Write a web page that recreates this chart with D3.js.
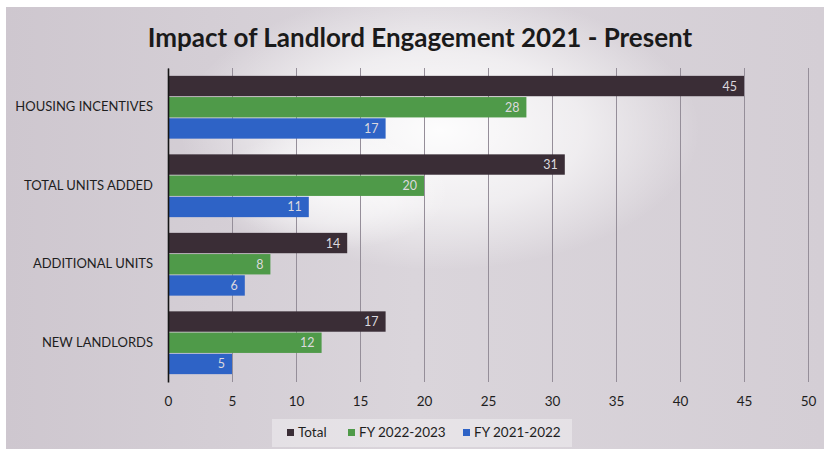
<!DOCTYPE html>
<html>
<head>
<meta charset="utf-8">
<script src="https://cdn.jsdelivr.net/npm/d3@7/dist/d3.min.js"></script>
<style>
  html, body { margin: 0; padding: 0; background: #ffffff; }
  svg { display: block; }
</style>
</head>
<body>
<svg id="chart" width="824" height="449"></svg>
<script>
// Chart data
const categories = ["HOUSING INCENTIVES", "TOTAL UNITS ADDED", "ADDITIONAL UNITS", "NEW LANDLORDS"];
const seriesNames = ["Total", "FY 2022-2023", "FY 2021-2022"];
const totalValues = [45, 31, 14, 17];
const fy2223Values = [28, 20, 8, 12];
const fy2122Values = [17, 11, 6, 5];
const xTicks = [0, 5, 10, 15, 20, 25, 30, 35, 40, 45, 50];
const titleText = "Impact of Landlord Engagement 2021 - Present";

const seriesValues = [totalValues, fy2223Values, fy2122Values];
const seriesColors = ["#3a2d36", "#4f9a49", "#2e63c6"];

const W = 824, H = 449;
const svg = d3.select("#chart");
const font = "Lato, 'Open Sans', sans-serif";

// Slide background: pale lavender-grey with a lighter patch in the upper middle
const defs = svg.append("defs");
const glow = defs.append("radialGradient")
  .attr("id", "glow")
  .attr("cx", 0.5).attr("cy", 0.5).attr("r", 0.5);
glow.append("stop").attr("offset", "0%").attr("stop-color", "#ffffff").attr("stop-opacity", 0.95);
glow.append("stop").attr("offset", "55%").attr("stop-color", "#ffffff").attr("stop-opacity", 0.6);
glow.append("stop").attr("offset", "100%").attr("stop-color", "#ffffff").attr("stop-opacity", 0);

const side = defs.append("linearGradient").attr("id", "side")
  .attr("x1", 0).attr("x2", 1).attr("y1", 0).attr("y2", 0);
side.append("stop").attr("offset", "0%").attr("stop-color", "#cec7cf");
side.append("stop").attr("offset", "50%").attr("stop-color", "#dad5db");
side.append("stop").attr("offset", "100%").attr("stop-color", "#d4ced5");

svg.append("rect").attr("width", W).attr("height", H).attr("fill", "#ffffff");
svg.append("rect").attr("x", 6).attr("y", 7).attr("width", W - 6).attr("height", H - 7)
  .attr("fill", "url(#side)");
svg.append("ellipse").attr("cx", 440).attr("cy", 130).attr("rx", 260).attr("ry", 140)
  .attr("fill", "url(#glow)");
svg.append("ellipse").attr("cx", 330).attr("cy", 190).attr("rx", 120).attr("ry", 60)
  .attr("fill", "url(#glow)").attr("opacity", 0.7);

// Title
svg.append("text")
  .attr("x", 420).attr("y", 47)
  .attr("text-anchor", "middle")
  .attr("font-family", font).attr("font-weight", 700).attr("font-size", 26)
  .attr("fill", "#1a1a1a")
  .text(titleText);

// Scales
const x = d3.scaleLinear().domain([0, 50]).range([168, 808]);
const y = d3.scaleBand().domain(categories).range([68, 382])
  .paddingInner(0.2).paddingOuter(0.1);
const ySub = d3.scaleBand().domain(seriesNames).range([0, y.bandwidth()]).paddingInner(0.04);

// Vertical gridlines
const grid = d3.axisBottom(x).tickValues(xTicks).tickSize(-(382 - 68)).tickFormat("");
svg.append("g")
  .attr("transform", "translate(0,382)")
  .call(grid)
  .call(g => g.select(".domain").remove())
  .call(g => g.selectAll(".tick line").attr("stroke", "#958e99").attr("stroke-width", 1));

// Bars
const groups = svg.append("g").selectAll("g")
  .data(categories)
  .join("g")
  .attr("transform", d => `translate(0,${y(d)})`);

seriesNames.forEach((s, si) => {
  const vals = seriesValues[si];
  groups.append("rect")
    .attr("x", x(0))
    .attr("y", ySub(s))
    .attr("width", (d, i) => x(vals[i]) - x(0))
    .attr("height", ySub.bandwidth())
    .attr("fill", seriesColors[si]);
  groups.append("text")
    .attr("x", (d, i) => x(vals[i]) - 7)
    .attr("y", ySub(s) + ySub.bandwidth() / 2)
    .attr("dy", "0.36em")
    .attr("text-anchor", "end")
    .attr("font-family", font).attr("font-size", 12.5)
    .attr("fill", "#dcd9de")
    .text((d, i) => vals[i]);
});

// Category axis
const yAxis = d3.axisLeft(y).tickSize(0).tickPadding(15);
svg.append("g")
  .attr("transform", `translate(${x(0)},0)`)
  .call(yAxis)
  .call(g => g.select(".domain").attr("stroke", "#151515").attr("stroke-width", 1.6))
  .call(g => g.selectAll("text")
    .attr("font-family", font).attr("font-size", 13).attr("fill", "#1e1e1e"));

// Value axis labels
const xAxis = d3.axisBottom(x).tickValues(xTicks).tickSize(0).tickPadding(14);
svg.append("g")
  .attr("transform", "translate(0,382)")
  .call(xAxis)
  .call(g => g.select(".domain").remove())
  .call(g => g.selectAll("text")
    .attr("font-family", font).attr("font-size", 13.5).attr("fill", "#1e1e1e"));

// Legend
const legendX = [287, 348, 463];
const legend = svg.append("g");
legend.append("rect").attr("x", 272).attr("y", 419).attr("width", 300).attr("height", 28)
  .attr("fill", "#ffffff").attr("opacity", 0.35);
seriesNames.forEach((s, i) => {
  legend.append("rect")
    .attr("x", legendX[i]).attr("y", 429)
    .attr("width", 7).attr("height", 7)
    .attr("fill", seriesColors[i]);
  legend.append("text")
    .attr("x", legendX[i] + 11).attr("y", 432.5)
    .attr("dy", "0.36em")
    .attr("font-family", font).attr("font-size", 13.5).attr("fill", "#1e1e1e")
    .text(s);
});
</script>
</body>
</html>
